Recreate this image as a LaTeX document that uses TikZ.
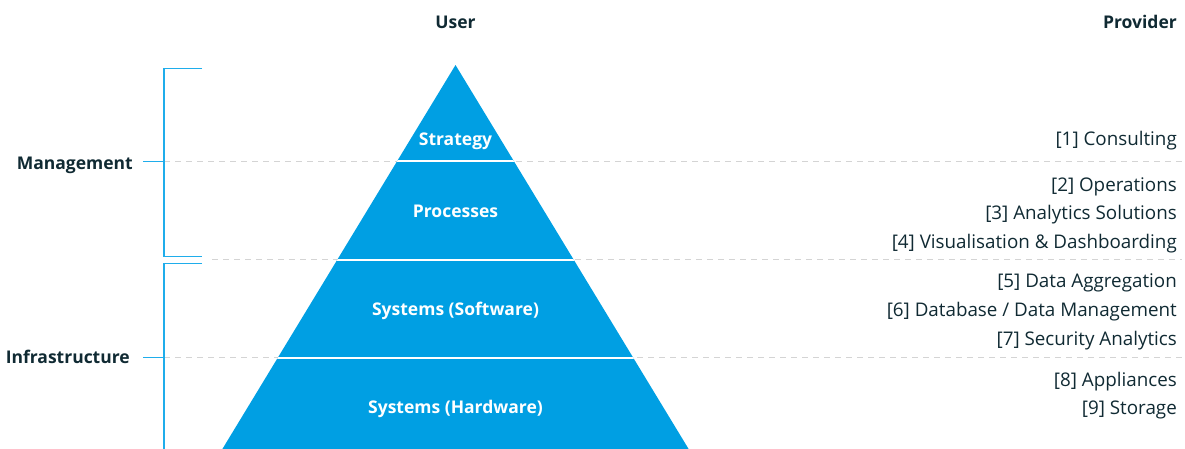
\documentclass[tikz,border=0pt]{standalone}
\usepackage{fontspec}
\setmainfont{Open Sans}
\usetikzlibrary{positioning}

\definecolor{pyrblue}{HTML}{009FE3}
\definecolor{brkblue}{HTML}{1FADEB}
\definecolor{darktext}{HTML}{102A33}
\definecolor{dashgray}{HTML}{D4D4D4}

\begin{document}
\begin{tikzpicture}[
    x=1pt, y=-1pt,
    node distance=11.5pt and 0pt,
    head/.style={font=\fontsize{17.5}{20}\selectfont\bfseries, text=darktext, inner sep=0pt},
    layer/.style={font=\fontsize{17.5}{20}\selectfont\bfseries, text=white, inner sep=0pt, anchor=base},
    item/.style={font=\fontsize{18.8}{22}\selectfont, text=darktext, inner sep=0pt, text height=13pt, text depth=4pt},
    bracket/.style={draw=brkblue, line width=1.3pt},
    sep/.style={draw=dashgray, line width=1.3pt, dash pattern=on 6pt off 5pt},
    cut/.style={draw=white, line width=2.2pt}
]
\useasboundingbox (0,0) rectangle (1185,448);

% Pyramid corners
\coordinate (apex) at (455.5,65);
\coordinate (baseL) at (215.7,460);
\coordinate (baseR) at (695.3,460);

% Separators
\draw[sep] (164,161.3) -- (1182,161.3);
\draw[sep] (212,259.7) -- (1182,259.7);
\draw[sep] (164,357.7) -- (1182,357.7);

% Pyramid
\fill[pyrblue] (apex) -- (baseR) -- (baseL) -- cycle;
\begin{scope}
  \clip (apex) -- (baseR) -- (baseL) -- cycle;
  \draw[cut] (200,161.3) -- (710,161.3);
  \draw[cut] (200,259.7) -- (710,259.7);
  \draw[cut] (200,357.7) -- (710,357.7);
\end{scope}

\node[layer] (strategy) at (455.5,145) {Strategy};
\node[layer] (processes) at (455.5,217.3) {Processes};
\node[layer] (software) at (455.5,315) {Systems (Software)};
\node[layer] (hardware) at (455.5,413) {Systems (Hardware)};

% Headings
\node[head, anchor=base] (user) at (455.5,28.5) {User};
\node[head, anchor=base east] (provider) at (1177,28.5) {Provider};

% Brackets
\node[head, anchor=base east] (mgmt) at (133,169.3) {Management};
\node[head, anchor=base east] (infra) at (130,363.5) {Infrastructure};
\draw[bracket] (202,68.3) -- (164,68.3) -- (164,256.7) -- (202,256.7);
\draw[bracket] (202,263.7) -- (164,263.7) -- (164,460);
\draw[bracket] (mgmt.east |- 0,161.3) ++(10,0) -- (164,161.3);
\draw[bracket] (infra.east |- 0,357.7) ++(13,0) -- (164,357.7);

% Provider items
\node[item, anchor=base east] (consult) at (1177,145.3) {[1] Consulting};

\node[item, anchor=base east] (ops) at (1177,191) {[2] Operations};
\node[item, below left=of ops.south east] (analytics) {[3] Analytics Solutions};
\node[item, below left=of analytics.south east] (visual) {[4] Visualisation \& Dashboarding};

\node[item, anchor=base east] (aggr) at (1177,287.5) {[5] Data Aggregation};
\node[item, below left=of aggr.south east] (dbase) {[6] Database / Data Management};
\node[item, below left=of dbase.south east] (secur) {[7] Security Analytics};

\node[item, anchor=base east] (appl) at (1177,386) {[8] Appliances};
\node[item, below left=of appl.south east] (storage) {[9] Storage};
\end{tikzpicture}
\end{document}
